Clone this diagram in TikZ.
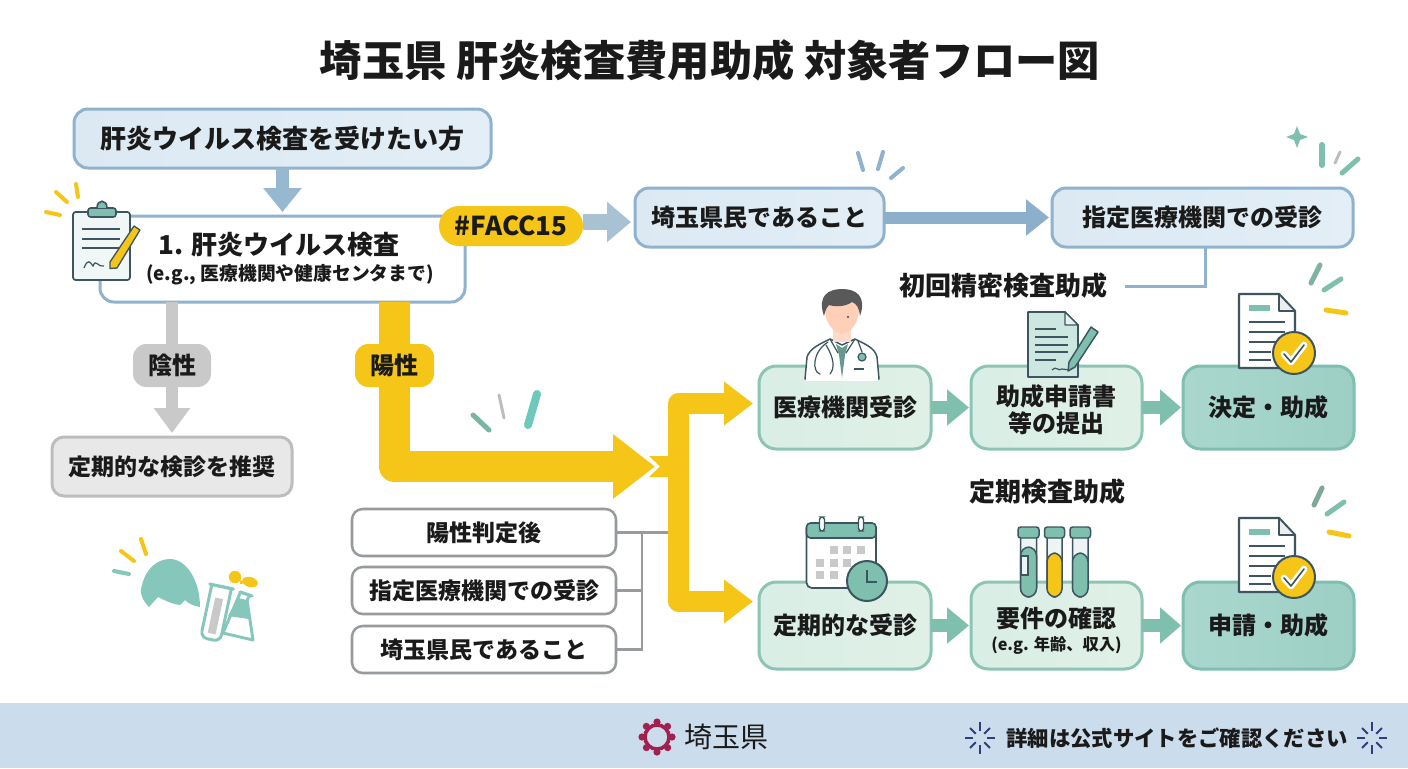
\documentclass[tikz,border=0pt]{standalone}
\usepackage{fontspec}
\setmainfont{Noto Sans CJK JP}
\usetikzlibrary{arrows.meta,calc}
\definecolor{ink}{HTML}{1A1A1A}
\definecolor{blueS}{HTML}{8FB2CE}
\definecolor{blueA}{HTML}{DCE9F3}
\definecolor{blueB}{HTML}{E3EEF6}
\definecolor{arrB}{HTML}{8CB0CC}
\definecolor{arrC}{HTML}{A9C2D3}
\definecolor{yel}{HTML}{F5C518}
\definecolor{greyP}{HTML}{C9C9C9}
\definecolor{greyS}{HTML}{BDBDBD}
\definecolor{greyL}{HTML}{E8E8E8}
\definecolor{greyK}{HTML}{979B9D}
\definecolor{grnS}{HTML}{8CC5B4}
\definecolor{grnA}{HTML}{D9EEE6}
\definecolor{grnB}{HTML}{E0F0E6}
\definecolor{tealA}{HTML}{A9D7CD}
\definecolor{tealB}{HTML}{9DCFC5}
\definecolor{tealS}{HTML}{7FBFB0}
\definecolor{arrG}{HTML}{7FBFAE}
\definecolor{blob}{HTML}{85C8BB}
\definecolor{icoS}{HTML}{3D5560}
\definecolor{foot}{HTML}{CBDCEC}
\definecolor{navy}{HTML}{2B3F7E}
\definecolor{crim}{HTML}{A0214F}
\newcommand\fsz[1]{\fontsize{#1}{#1}\selectfont}
\newcommand\tickline[4]{\draw[line cap=round,line width=#1*0.75pt,color=#2] #3 -- #4;}
\newcommand\dcheck[2]{%
 \begin{scope}[shift={(#1,#2)}]
  \draw[icoS,line width=1.6pt,fill=white,line join=round] (0,0)--(40,0)--(56,17)--(56,74)--(0,74)--cycle;
  \draw[icoS,line width=1.2pt,fill=white!90!icoS,line join=round] (40,0)--(40,17)--(56,17)--cycle;
  \fill[tealS] (10,11) rectangle (31,17);
  \foreach \yy/\xe in {28/46,38/46,48/46,58/32,66/32}{\draw[icoS,line width=1.2pt] (10,\yy)--(\xe,\yy);}
  \draw[icoS,line width=1.5pt,fill=yel] (55,59) circle[radius=21];
  \draw[white,line width=5pt,line join=round,line cap=round] (45,60)--(52,68)--(65,51);
  \draw[icoS,line width=1.2pt,line join=round,line cap=round] (45,60)--(52,68)--(65,51);
 \end{scope}}
\newcommand\sparkl[2]{%
 \begin{scope}[shift={(#1,#2)}]
  \foreach \aa/\ra/\rb in {0/7/15,45/6/14,90/7/16,135/6/14,180/7/15,225/6/14,270/7/16,315/6/14}{
   \draw[navy,line width=1.5pt] (\aa:\ra) -- (\aa:\rb);}
 \end{scope}}
\tikzset{
 sz/.style 2 args={minimum width=#1*0.75pt,minimum height=#2*0.75pt,inner sep=0pt,outer sep=0pt,text=ink},
 bluebox/.style={draw=blueS,line width=2.25pt,rounded corners=10.5pt,left color=blueA,right color=blueB,font=\bfseries\fsz{18}},
 whitebox/.style={draw=blueS,line width=2.25pt,rounded corners=10.5pt,fill=white},
 greybox/.style={draw=greyS,line width=2.25pt,rounded corners=9pt,fill=greyL,font=\bfseries\fsz{17.25}},
 condbox/.style={draw=greyK,line width=1.9pt,rounded corners=8pt,fill=white,font=\bfseries\fsz{17.25}},
 grnbox/.style={draw=grnS,line width=2.25pt,rounded corners=13pt,left color=grnA,right color=grnB,align=center,font=\bfseries\fsz{18}},
 tealbox/.style={draw=tealS,line width=2.25pt,rounded corners=13pt,left color=tealA,right color=tealB,align=center,font=\bfseries\fsz{18}},
 pill/.style={rounded corners=10pt,font=\bfseries\fsz{18}},
 heading/.style={text=ink,inner sep=0pt,font=\bfseries\fsz{19.5}},
 blockarrow/.style n args={5}{draw=#1,line width=#2*0.75pt,-{Triangle[length=#3*0.75pt,width=#4*0.75pt]},shorten >=#5*0.75pt},
 yelfork/.style={draw=yel,line width=15.5pt,line join=round,{Triangle[length=21.75pt,width=31.5pt]}-{Triangle[length=21.75pt,width=31.5pt]}},
 thin link/.style={draw=greyK,line width=1.6pt},
}
\begin{document}
\begin{tikzpicture}[x=0.75pt,y=-0.75pt]
\useasboundingbox (0,0) rectangle (1408,768);
\fill[white] (0,0) rectangle (1408,768);
\fill[foot] (0,703) rectangle (1408,768);

% title
\node[text=ink,inner sep=0pt,font=\bfseries\fsz{31.7}] (title) at (710,60) {埼玉県 肝炎検査費用助成 対象者フロー図};

% main boxes
\node[bluebox,sz={417}{59},font=\bfseries\fsz{19.5}] (want) at (282.5,138.5) {肝炎ウイルス検査を受けたい方};
\node[whitebox,sz={365}{86}] (test) at (282.5,259) {};
\node[text=ink,inner sep=0pt,font=\bfseries\fsz{19.5}] (testA) at (279,245) {1. 肝炎ウイルス検査};
\node[text=ink,inner sep=0pt,font=\bfseries\fsz{14.1}] (testB) at (290,275) {(e.g., 医療機関や健康センタまで)};
\node[bluebox,sz={249}{59}] (resident) at (759.5,217.5) {埼玉県民であること};
\node[bluebox,sz={301}{59}] (clinic) at (1202.5,217.5) {指定医療機関での受診};
\node[greybox,sz={240}{59}] (regular) at (172,466.5) {定期的な検診を推奨};

% condition boxes
\node[condbox,sz={264}{47}] (c1) at (484,532.5) {陽性判定後};
\node[condbox,sz={264}{47}] (c2) at (484,590.5) {指定医療機関での受診};
\node[condbox,sz={264}{47}] (c3) at (484,649.5) {埼玉県民であること};

% green flow boxes
\node[grnbox,sz={172}{83}] (r1a) at (845,407.5) {医療機関受診};
\node[grnbox,sz={171}{83}] (r1b) at (1056.5,407.5) {};
\node[text=ink,inner sep=0pt,font=\bfseries\fsz{18}] (r1bA) at (1056.5,396.5) {助成申請書};
\node[text=ink,inner sep=0pt,font=\bfseries\fsz{18}] (r1bB) at (1056.5,423.5) {等の提出};
\node[tealbox,sz={171}{83}] (r1c) at (1268.5,407.5) {決定・助成};
\node[grnbox,sz={172}{87}] (r2a) at (845,625.5) {定期的な受診};
\node[grnbox,sz={171}{87}] (r2b) at (1056.5,625.5) {};
\node[text=ink,inner sep=0pt,font=\bfseries\fsz{18}] (r2bA) at (1056.5,618) {要件の確認};
\node[text=ink,inner sep=0pt,font=\bfseries\fsz{12.2}] (r2bB) at (1056.5,645) {(e.g. 年齢、収入)};
\node[tealbox,sz={171}{87}] (r2c) at (1268.5,625.5) {申請・助成};

% headings
\node[heading] (h1) at (1003,286) {初回精密検査助成};
\node[heading] (h2) at (1047,492) {定期検査助成};

% free ends and junctions
\coordinate (negX) at (172,387);
\coordinate (posTop) at (394.5,302);
\coordinate (posCorner) at (394.5,466.5);
\coordinate (mergeIn) at (655,466.5);
\coordinate (forkU) at (753,403.5);
\coordinate (forkUc) at (678.5,403.5);
\coordinate (forkDc) at (678.5,601.5);
\coordinate (forkD) at (753,601.5);
\coordinate (bus) at (642,532.5);
\coordinate (barHit) at (668,532.5);
\coordinate (stepEnd) at (1125,286);
\coordinate (stepTop) at (1205,247);
\coordinate (faccOut) at (583,222);
\coordinate (faccIn) at (631,222);

% connectors
\draw[blockarrow={arrB!90!white}{13}{24}{37}{4}] (want.south) -- (test.north);
\draw[blockarrow={arrC}{16}{24}{39}{0}] (faccOut) -- (faccIn);
\draw[blockarrow={arrB}{12}{23}{35}{3}] (resident.east) -- (clinic.west);
\draw[draw=blueS,line width=2.25pt] (stepTop) |- (stepEnd);
\draw[blockarrow={greyP}{12}{25}{35}{4}] (test.south -| negX) -- (regular.north);
\draw[draw=yel,line width=23.25pt,line join=round,-{Triangle[length=31.5pt,width=46.5pt]}] (posTop) -- (posCorner) -- (mergeIn);
\fill[yel] (649,456) -- (669,456) -- (669,477) -- (649,477) -- (660,466.5) -- cycle;
\draw[yelfork] (forkU) -- (forkUc) -- (forkDc) -- (forkD);
\draw[thin link] (c1.east) -- (barHit);
\draw[thin link] (c2.east) -| (bus);
\draw[thin link] (c3.east) -| (bus);
\draw[blockarrow={arrG}{13}{22}{35}{2}] (r1a.east) -- (r1b.west);
\draw[blockarrow={arrG}{13}{21}{35}{2}] (r1b.east) -- (r1c.west);
\draw[blockarrow={arrG}{13}{22}{35}{2}] (r2a.east) -- (r2b.west);
\draw[blockarrow={arrG}{13}{21}{35}{2}] (r2b.east) -- (r2c.west);

% pills
\node[pill,fill=yel,text=ink,sz={144}{40},rounded corners=15pt,font=\bfseries\fsz{19.5}] (facc) at (511,226) {\#FACC15};
\node[pill,fill=greyP,sz={78}{43}] (neg) at (172,365.5) {陰性};
\node[pill,fill=yel,sz={79}{43}] (pos) at (394.5,365.5) {陽性};

% clipboard icon
\begin{scope}
 \draw[icoS,line width=1.3pt,fill=white!88!tealS,rounded corners=2pt] (73,212) rectangle (130,280);
 \draw[icoS,line width=1.2pt,fill=tealS,rounded corners=2pt] (88,208) rectangle (116,217);
 \draw[icoS,line width=1.2pt,fill=tealS] (97,208) .. controls (97,199) and (107,199) .. (107,208);
 \foreach \yy in {229,239,248}{\draw[icoS,line width=1pt] (82,\yy)--(120,\yy);}
 \draw[icoS,line width=.9pt] (84,268) .. controls (88,258) and (90,262) .. (93,266) .. controls (96,258) and (98,268) .. (104,266);
 \draw[icoS,line width=1pt,fill=yel,line join=round] (134,226)--(140,230)--(117,268)--(110,268.5)--(110,262)--cycle;
\end{scope}
\tickline{4}{yel}{(46,212)}{(60,215)}
\tickline{4}{yel}{(56,192)}{(67,202)}
\tickline{4}{yel}{(76,184)}{(78,197)}

% decoration ticks
\tickline{5}{arrG!95!black}{(473,415)}{(489,430)}
\tickline{3}{greyS}{(499,395)}{(504,418)}
\tickline{8}{tealS!85!cyan}{(537,394)}{(528,425)}
\tickline{4}{blueS}{(858,153)}{(863,170)}
\tickline{4}{blueS}{(883,152)}{(878,169)}
\tickline{4}{blueS}{(903,168)}{(891,178)}
\fill[tealS] (1297,126) -- (1300,134) -- (1308,137) -- (1300,140) -- (1297,148) -- (1294,140) -- (1286,137) -- (1294,134) -- cycle;
\tickline{6}{arrG}{(1322,145)}{(1322,165)}
\tickline{3}{greyS}{(1340,152)}{(1335,163)}
\tickline{5}{arrG}{(1358,159)}{(1342,173)}
\tickline{5}{arrG!80!gray}{(1320,265)}{(1311,283)}
\tickline{5}{arrG}{(1341,279)}{(1324,290)}
\tickline{5}{yel}{(1326,310)}{(1346,313)}
\tickline{5}{arrG!60!gray}{(1322,488)}{(1314,505)}
\tickline{5}{arrG}{(1344,502)}{(1327,514)}
\tickline{5}{yel}{(1329,532)}{(1349,536)}

% doctor icon
\begin{scope}
 \draw[icoS,line width=1.1pt,fill=white,line join=round] (805,379) -- (807,357) .. controls (810,348) and (820,344) .. (830,339) -- (842,345) -- (855,339) .. controls (865,344) and (875,348) .. (877,357) -- (879,379) -- cycle;
 \fill[white] (806,377) rectangle (878,381);
 \fill[white!80!orange!70!pink] (833,325) rectangle (851,342);
 \fill[white!70!orange!65!pink] (842,291) .. controls (866,291) and (863,330) .. (842,334) .. controls (821,330) and (818,291) .. (842,291) -- cycle;
 \fill[black!65!white] (824,316) .. controls (817,296) and (828,289) .. (842,289) .. controls (856,289) and (867,296) .. (860,316) .. controls (859,308) and (857,304) .. (852,302) .. controls (845,307) and (835,307) .. (829,305) .. controls (826,308) and (825,312) .. (824,316) -- cycle;
 \fill[black!70] (848,317) circle[radius=1.2];
 \fill[tealS!80!black] (836,344) -- (842,348) -- (848,344) -- (845,355) -- (842,378) -- (839,355) -- cycle;
 \draw[icoS,line width=.9pt] (830,339) -- (838,353);
 \draw[icoS,line width=.9pt] (855,339) -- (846,353);
 \draw[icoS,line width=.9pt,line cap=round] (828,342) .. controls (812,352) and (812,372) .. (820,374);
 \draw[icoS,line width=.9pt,line cap=round] (826,345) .. controls (834,358) and (835,368) .. (830,374);
 \draw[icoS,line width=.9pt] (858,341) -- (862,352);
 \draw[icoS,line width=.9pt,fill=tealS] (862,357) circle[radius=4];
 \draw[icoS,line width=1pt] (854,369) -- (864,369);
\end{scope}

% application document with pen
\begin{scope}
 \draw[icoS,line width=1.3pt,fill=grnA!70!tealA,line join=round] (1028,312) -- (1065,312) -- (1078,325) -- (1078,377) -- (1028,377) -- cycle;
 \draw[icoS,line width=1pt,fill=white!70!tealA,line join=round] (1065,312) -- (1065,325) -- (1078,325) -- cycle;
 \foreach \yy/\xe in {329/1056,337/1068,345/1068,352/1068,360/1056}{\draw[icoS,line width=.9pt] (1035,\yy)--(\xe,\yy);}
 \draw[icoS,line width=.9pt] (1052,370) .. controls (1056,365) and (1058,372) .. (1062,369) -- (1070,370);
 \draw[icoS,line width=1.1pt,fill=tealS,line join=round] (1091,327) -- (1098,332) -- (1075,367) -- (1068,371) -- (1069,362) -- cycle;
\end{scope}
\dcheck{1239}{294}
\dcheck{1239}{518}

% calendar
\begin{scope}
 \draw[icoS,line width=1.3pt,fill=white,rounded corners=4pt] (806.5,523) rectangle (876,588);
 \draw[icoS,line width=1.2pt,fill=tealS,rounded corners=3pt] (806.5,523) -- (876,523) -- (876,538) -- (806.5,538) -- cycle;
 \foreach \xx in {822,861}{\draw[icoS,line width=1.1pt,fill=white,rounded corners=2pt] (\xx-2.5,517) rectangle (\xx+2.5,531);}
 \foreach \xx/\yy in {834/550,847/550,861/550,820/563,834/563,847/563,820/575,834/575}{\fill[greyP] (\xx-4,\yy-4) rectangle (\xx+4,\yy+4);}
 \draw[icoS,line width=1.5pt,fill=arrG] (867,581) circle[radius=20];
 \draw[icoS,line width=1.3pt] (867,570) -- (867,582) -- (877,582);
\end{scope}

% test tubes
\begin{scope}
 \foreach \xl/\xr/\lq/\col in {1020.5/1036.5/547/arrG,1047/1062/553/yel,1072.5/1088/553/arrG}{
  \draw[icoS,line width=1.1pt,fill=white!85!tealS,rounded corners=7pt] (\xl,530) -- (\xl,597) -- (\xr,597) -- (\xr,530);
  \draw[icoS,line width=1.1pt,fill=\col,rounded corners=6.5pt] (\xl,\lq) -- (\xl,597) -- (\xr,597) -- (\xr,\lq) -- cycle;
  \draw[icoS,line width=1.1pt,fill=arrG,rounded corners=2pt] (\xl-2.5,527) rectangle (\xr+2.5,538);
 }
 \draw[icoS,line width=.8pt,fill=white!85!tealS] (1021,556) rectangle (1028,575);
\end{scope}

% lower-left decoration
\fill[blob] (149,607) .. controls (140,598) and (140,590) .. (142,585) .. controls (146,568) and (158,559) .. (170,559) .. controls (186,559) and (200,580) .. (200,607) .. controls (193,606) and (188,603) .. (185,600) -- (180,605) .. controls (172,604) and (164,600) .. (158,597) -- cycle;
\tickline{4}{yel}{(121,551)}{(134,561)}
\tickline{4}{yel}{(141,539)}{(146,554)}
\tickline{4}{blob}{(114,571)}{(129,574)}
% flask
\draw[blob,line width=2.2pt,fill=white,line join=round] (238,598) -- (223,633) -- (253,640) -- (247,600);
\fill[blob] (238,598) -- (228,616) -- (249,619) -- (247,600) -- cycle;
\draw[blob,line width=2.4pt,line cap=round] (240,592) -- (252,596);
\draw[blob,line width=2.2pt] (240,593) -- (238,598);
\draw[blob,line width=2.2pt] (250,595) -- (247,600);
% tube
\begin{scope}[shift={(216,613)},rotate=-12]
 \draw[blob,line width=2.2pt,fill=white,rounded corners=5pt] (-10,-27) -- (-10,27) -- (10,27) -- (10,-27);
 \draw[blob,line width=2.4pt,line cap=round] (-12,-27) -- (12,-27);
 \fill[greyP] (-4,-15) rectangle (4,21);
\end{scope}
\fill[yel] (235,577) circle[radius=6.2];
\fill[yel] (240,580) -- (246,583) -- (240,584) -- cycle;
\fill[yel,rotate around={-15:(250,582)}] (250,582) ellipse[x radius=8,y radius=5];

% footer
\begin{scope}[shift={(657,737)}]
 \draw[crim,line width=2.6pt] (0,0) circle[radius=12];
 \foreach \aa in {0,45,...,315}{\fill[crim] (\aa:15) circle[radius=3.6];}
 \foreach \aa in {22.5,67.5,...,337.5}{\fill[crim] (\aa:12.5) circle[radius=1.8];}
\end{scope}
\node[text=ink,inner sep=0pt,font=\fsz{21}] (pref) at (726.5,737) {埼玉県};
\node[text=ink,inner sep=0pt,font=\bfseries\fsz{16}] (info) at (1177,738) {詳細は公式サイトをご確認ください};
\sparkl{980}{738}
\sparkl{1372}{738}
\end{tikzpicture}
\end{document}
